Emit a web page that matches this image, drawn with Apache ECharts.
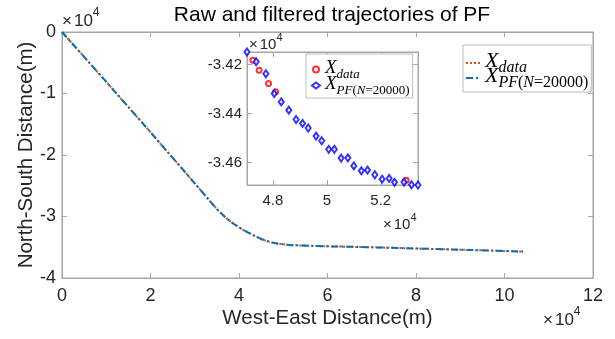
<!DOCTYPE html>
<html>
<head>
<meta charset="utf-8">
<script src="https://cdn.jsdelivr.net/npm/echarts@6/dist/echarts.min.js"></script>
<style>
  html, body { margin: 0; padding: 0; background: #fff; }
  #main { width: 615px; height: 339px; }
</style>
</head>
<body>
<div id="main"></div>
<script>
// units of 1e4 m on both axes
var trackX = [0, 1, 2, 3, 3.5, 3.7, 3.9, 4.1, 4.3, 4.5, 4.6, 4.7, 4.8, 4.9, 5.0, 5.1, 5.2, 5.34, 5.6, 6, 7, 8, 9, 10, 10.42];
var trackYData = [0, -0.81, -1.63, -2.46, -2.88, -3.02, -3.13, -3.22, -3.295, -3.365, -3.393, -3.415, -3.431, -3.443, -3.453, -3.461, -3.467, -3.469, -3.476, -3.485, -3.50, -3.52, -3.54, -3.56, -3.57];
var trackYPF = trackYData.slice(); // overlaps the raw track at this scale

// zoomed window (inset)
var pfX = [4.704, 4.738, 4.774, 4.805, 4.831, 4.859, 4.886, 4.910, 4.931, 4.960, 4.981, 5.007, 5.028, 5.053, 5.078, 5.100, 5.128, 5.151, 5.178, 5.205, 5.231, 5.251, 5.286, 5.314, 5.338];
var pfY = [-3.4148, -3.4188, -3.4237, -3.4318, -3.4352, -3.4386, -3.4424, -3.4440, -3.4459, -3.4492, -3.4511, -3.4546, -3.4546, -3.4582, -3.4581, -3.4614, -3.4634, -3.4631, -3.4650, -3.4668, -3.4665, -3.4681, -3.4680, -3.4691, -3.4692];
var rawX = [4.726, 4.749, 4.784, 4.810, 5.294];
var rawY = [-3.4182, -3.4223, -3.4277, -3.4311, -3.4673];

var mainXTicks = [0, 2, 4, 6, 8, 10, 12];
var mainYTicks = [-4, -3, -2, -1, 0];
var insetXTicks = [4.8, 5, 5.2];
var insetYTicks = [-3.46, -3.44, -3.42];

function zip(a, b) { return a.map(function (v, i) { return [v, b[i]]; }); }

var axisCol = '#a6a6a6';
var labelCol = '#262626';
var font = 'Liberation Sans, Arial, sans-serif';
var serif = 'Liberation Serif, Times New Roman, serif';

function box(gridIndex, min, max, position, ticks, showLabel, fontSize, margin, fmt) {
  return {
    type: 'value', gridIndex: gridIndex, min: min, max: max, position: position,
    axisLine: { show: true, onZero: false, lineStyle: { color: axisCol, width: 1 } },
    axisTick: { show: true, inside: true, length: 5, customValues: ticks, lineStyle: { color: axisCol } },
    axisLabel: { show: showLabel, customValues: ticks, color: labelCol, fontSize: fontSize, fontFamily: font, margin: margin, formatter: fmt },
    splitLine: { show: false }
  };
}

function richSet(big, small) {
  return {
    x: { fontFamily: serif, fontStyle: 'italic', fontSize: big, color: '#000', verticalAlign: 'bottom', padding: [0, 0, 4, 0] },
    si: { fontFamily: serif, fontStyle: 'italic', fontSize: small, color: '#000', verticalAlign: 'bottom' },
    su: { fontFamily: serif, fontSize: small, color: '#000', verticalAlign: 'bottom' }
  };
}
function legendText(name) {
  if (name === 'data' || name === 'dataIn') return '{x|X}{si|data}';
  return '{x|X}{si|PF}{su|(}{si|N}{su|=20000)}';
}

function times10(left, top, size) {
  return {
    type: 'text', left: left, top: top,
    style: {
      text: '{m|×}{b|10}{p|4}',
      rich: {
        m: { fontSize: size, fontFamily: font, fill: labelCol, verticalAlign: 'top', padding: [Math.round(size * 0.35), 2, 0, 0] },
        b: { fontSize: size, fontFamily: font, fill: labelCol, verticalAlign: 'top', padding: [Math.round(size * 0.35), 0, 0, 0] },
        p: { fontSize: Math.round(size * 0.7), fontFamily: font, fill: labelCol, verticalAlign: 'top' }
      }
    }
  };
}

var chart = echarts.init(document.getElementById('main'));
chart.setOption({
  backgroundColor: '#fff',
  animation: false,
  title: {
    text: 'Raw and filtered trajectories of PF',
    left: 327, top: 0, textAlign: 'center',
    textStyle: { fontFamily: font, fontWeight: 'normal', fontSize: 21, color: '#000' }
  },
  grid: [
    { left: 62, right: 22, top: 32, bottom: 61, show: true, borderColor: axisCol, borderWidth: 1, backgroundColor: '#fff' },
    { left: 247, right: 197, top: 52, bottom: 154, show: true, borderColor: axisCol, borderWidth: 1, backgroundColor: '#fff', z: 5 }
  ],
  xAxis: [
    Object.assign(box(0, 0, 12, 'bottom', mainXTicks, true, 18, 9), {
      name: 'West-East Distance(m)', nameLocation: 'middle', nameGap: 30, nameMoveOverlap: false,
      nameTextStyle: { fontFamily: font, fontSize: 20.5, color: labelCol }
    }),
    box(0, 0, 12, 'top', mainXTicks, false, 18, 8),
    Object.assign(box(1, 4.704, 5.338, 'bottom', insetXTicks, true, 15, 8, function (v) { return String(+v.toFixed(1)); }), { z: 6 }),
    Object.assign(box(1, 4.704, 5.338, 'top', insetXTicks, false, 15, 8), { z: 6 })
  ],
  yAxis: [
    Object.assign(box(0, -4, 0, 'left', mainYTicks, true, 18, 6), {
      name: 'North-South Distance(m)', nameLocation: 'middle', nameGap: 25, nameMoveOverlap: false,
      nameTextStyle: { fontFamily: font, fontSize: 20.5, color: labelCol }
    }),
    box(0, -4, 0, 'right', mainYTicks, false, 18, 8),
    Object.assign(box(1, -3.4692, -3.4148, 'left', insetYTicks, true, 15, 5, function (v) { return v.toFixed(2); }), { z: 6 }),
    Object.assign(box(1, -3.4692, -3.4148, 'right', insetYTicks, false, 15, 8), { z: 6 })
  ],
  legend: [
    {
      data: [{ name: 'data', itemStyle: { opacity: 0 } }, { name: 'pf', itemStyle: { opacity: 0 } }],
      orient: 'vertical', left: 463, top: 45,
      itemWidth: 14, itemHeight: 10, itemGap: -11, padding: [5, 3, 1, 2],
      backgroundColor: '#fff', borderColor: '#bdbdbd', borderWidth: 1,
      formatter: legendText, textStyle: { rich: richSet(22, 16) }
    },
    {
      data: ['dataIn', 'pfIn'], orient: 'vertical', left: 306, top: 54, z: 8,
      itemWidth: 8, itemHeight: 6, itemGap: -7, padding: [4, 3, 1, 5],
      backgroundColor: '#fff', borderColor: '#bdbdbd', borderWidth: 1,
      formatter: legendText, textStyle: { rich: richSet(19, 13) }
    }
  ],
  series: [
    {
      name: 'data', type: 'line', xAxisIndex: 0, yAxisIndex: 0,
      data: zip(trackX, trackYData), symbol: 'none', z: 2,
      lineStyle: { color: '#D95319', width: 2, type: [2, 2] }, itemStyle: { color: '#D95319' }
    },
    {
      name: 'pf', type: 'line', xAxisIndex: 0, yAxisIndex: 0,
      data: zip(trackX, trackYPF), symbol: 'none', z: 3,
      lineStyle: { color: '#0072BD', width: 2, type: [7, 3, 2, 3] }, itemStyle: { color: '#0072BD' }
    },
    {
      name: 'dataIn', type: 'scatter', xAxisIndex: 2, yAxisIndex: 2, z: 6,
      data: zip(rawX, rawY), symbol: 'emptyCircle', symbolSize: 5,
      itemStyle: { color: '#ff0000', borderWidth: 1 }
    },
    {
      name: 'pfIn', type: 'scatter', xAxisIndex: 2, yAxisIndex: 2, z: 7,
      data: zip(pfX, pfY), symbol: 'emptyDiamond', symbolSize: [5, 7],
      itemStyle: { color: '#0000ff', borderWidth: 1 }
    }
  ],
  graphic: [
    times10(62, 7, 17),
    times10(543, 306, 17),
    Object.assign(times10(249, 32, 15), { z: 10 }),
    Object.assign(times10(383, 212, 15), { z: 10 })
  ]
});
</script>
</body>
</html>
